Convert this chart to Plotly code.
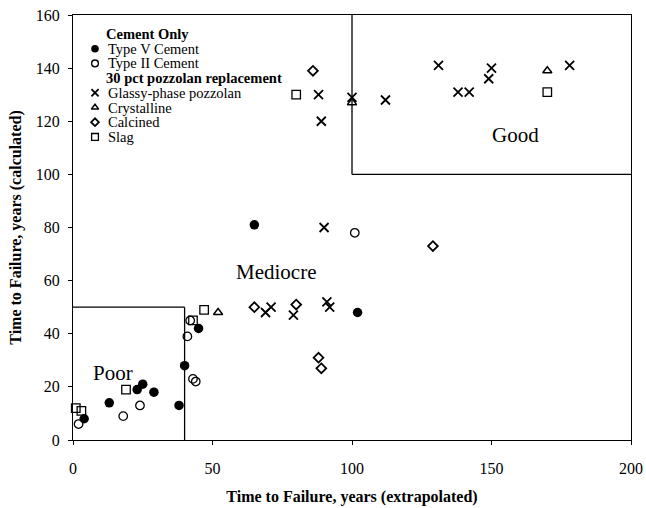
import plotly.graph_objects as go

# ---------------- data ----------------
type5_x = [4, 13, 23, 25, 29, 38, 40, 45, 65, 102]
type5_y = [8, 14, 19, 21, 18, 13, 28, 42, 81, 48]
type2_x = [2, 18, 24, 43, 44, 41, 42, 101]
type2_y = [6, 9, 13, 23, 22, 39, 45, 78]
glassy_x = [69, 71, 79, 91, 92, 90, 88, 89, 100, 112, 131, 138, 142, 150, 149, 178]
glassy_y = [48, 50, 47, 52, 50, 80, 130, 120, 129, 128, 141, 131, 131, 140, 136, 141]
cryst_x = [52, 100, 170]
cryst_y = [48, 127, 139]
calc_x = [65, 80, 88, 89, 129, 86]
calc_y = [50, 51, 31, 27, 73, 139]
slag_x = [1, 3, 19, 43, 47, 80, 170]
slag_y = [12, 11, 19, 45, 49, 130, 131]

x_ticks = [0, 50, 100, 150, 200]
y_ticks = [0, 20, 40, 60, 80, 100, 120, 140, 160]

poor_x, poor_y = 40, 50
good_x, good_y = 100, 100

zone_labels = ["Poor", "Mediocre", "Good"]
zone_label_x = [14.3, 72.8, 158.6]
zone_label_y = [25.4, 63.3, 114.8]

legend_rows = [
    ("header", "Cement Only"),
    ("type5", "Type V Cement"),
    ("type2", "Type II Cement"),
    ("header", "30 pct pozzolan replacement"),
    ("glassy", "Glassy-phase pozzolan"),
    ("cryst", "Crystalline"),
    ("calc", "Calcined"),
    ("slag", "Slag"),
]

# ---------------- styles ----------------
FONT = "Liberation Serif"
styles = {
    "type5": dict(symbol="circle", size=9.5, color="black", line=dict(width=0)),
    "type2": dict(symbol="circle-open", size=8.5, color="black", line=dict(width=1.3, color="black")),
    "glassy": dict(symbol="x-thin-open", size=9, color="black", line=dict(width=1.8, color="black")),
    "cryst": dict(symbol="triangle-up-open", size=8, color="black", line=dict(width=1.5, color="black")),
    "calc": dict(symbol="diamond-open", size=7.5, color="black", line=dict(width=1.8, color="black")),
    "slag": dict(symbol="square-open", size=8.5, color="black", line=dict(width=1.3, color="black")),
}
legend_marker_scale = 0.8

series = [
    ("type5", type5_x, type5_y),
    ("type2", type2_x, type2_y),
    ("glassy", glassy_x, glassy_y),
    ("cryst", cryst_x, cryst_y),
    ("calc", calc_x, calc_y),
    ("slag", slag_x, slag_y),
]

fig = go.Figure()
for key, xs, ys in series:
    fig.add_trace(go.Scatter(x=xs, y=ys, mode="markers", marker=styles[key],
                             showlegend=False, hoverinfo="x+y", cliponaxis=False))

# ---------------- layout geometry ----------------
W, H = 646, 508
ML, MR, MT, MB = 73, 15, 15, 68
PW, PH = W - ML - MR, H - MT - MB
row0, row_gap = 19.0, 14.7
marker_x, header_x, text_x = 22, 32, 34

annotations = []
for i, (kind, label) in enumerate(legend_rows):
    yy = row0 + i * row_gap
    if kind == "header":
        annotations.append(dict(x=header_x, y=yy, xref="x2", yref="y2", text="<b>" + label + "</b>",
                                showarrow=False, xanchor="left", yanchor="middle", borderpad=0,
                                font=dict(family=FONT, size=14.5, color="black")))
    else:
        st = dict(styles[kind])
        st["size"] = st["size"] * legend_marker_scale
        fig.add_trace(go.Scatter(x=[marker_x], y=[yy], xaxis="x2", yaxis="y2", mode="markers",
                                 marker=st, showlegend=False, hoverinfo="skip"))
        annotations.append(dict(x=text_x, y=yy, xref="x2", yref="y2", text=label,
                                showarrow=False, xanchor="left", yanchor="middle", borderpad=0,
                                font=dict(family=FONT, size=14.5, color="black")))

for lbl, lx, ly in zip(zone_labels, zone_label_x, zone_label_y):
    annotations.append(dict(x=lx, y=ly, xref="x", yref="y", text=lbl, showarrow=False,
                            xanchor="center", yanchor="middle",
                            font=dict(family=FONT, size=21, color="black")))

line_style = dict(color="black", width=1.3)
shapes = [
    dict(type="line", xref="x", yref="y", x0=0, y0=poor_y, x1=poor_x, y1=poor_y, line=line_style),
    dict(type="line", xref="x", yref="y", x0=poor_x, y0=0, x1=poor_x, y1=poor_y, line=line_style),
    dict(type="line", xref="x", yref="y", x0=good_x, y0=good_y, x1=x_ticks[-1], y1=good_y, line=line_style),
    dict(type="line", xref="x", yref="y", x0=good_x, y0=good_y, x1=good_x, y1=y_ticks[-1], line=line_style),
]

axis_common = dict(showgrid=False, zeroline=False, showline=True, linecolor="black", linewidth=1.3,
                   mirror=True, ticks="outside", ticklen=4, tickcolor="black", automargin=False,
                   ticklabeloverflow="allow",
                   tickfont=dict(family=FONT, size=16, color="black"))

fig.update_layout(
    width=W, height=H, margin=dict(l=ML, r=MR, t=MT, b=MB),
    paper_bgcolor="white", plot_bgcolor="white",
    xaxis=dict(range=[x_ticks[0], x_ticks[-1]], tickvals=x_ticks, ticklabelstandoff=10,
               title=dict(text="<b>Time to Failure, years (extrapolated)</b>", standoff=14,
                          font=dict(family=FONT, size=16, color="black")),
               **axis_common),
    yaxis=dict(range=[y_ticks[0], y_ticks[-1]], tickvals=y_ticks, ticklabelstandoff=5,
               title=dict(text="<b>Time to Failure, years (calculated)</b>", standoff=10,
                          font=dict(family=FONT, size=16, color="black")),
               **axis_common),
    xaxis2=dict(overlaying="x", range=[0, PW], visible=False, fixedrange=True),
    yaxis2=dict(overlaying="y", range=[PH, 0], visible=False, fixedrange=True),
    annotations=annotations, shapes=shapes, showlegend=False,
)

fig.write_html("out.html", config={"displayModeBar": False},
               post_script="document.body.style.margin='0';document.body.style.overflow='hidden';")
